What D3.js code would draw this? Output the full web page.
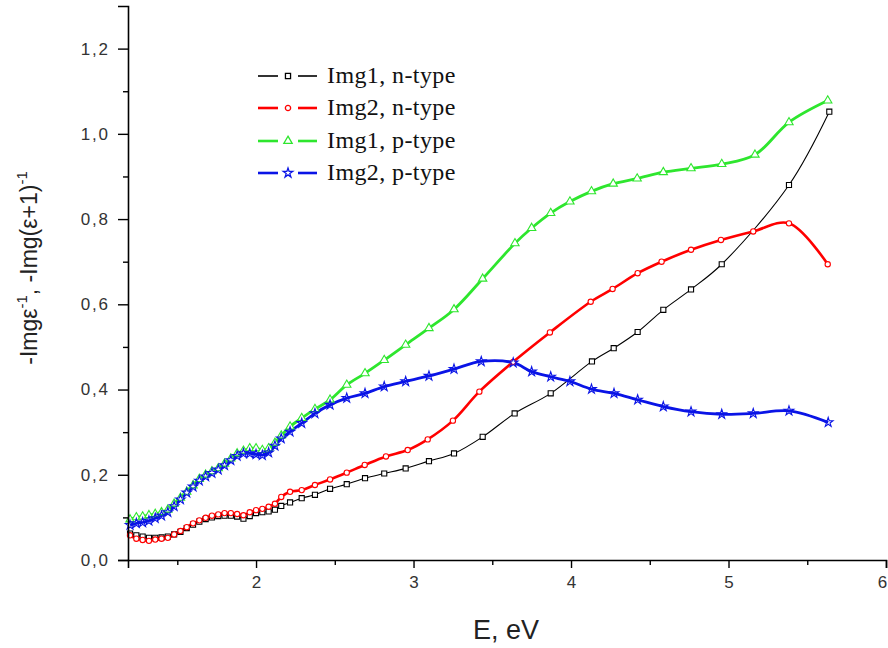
<!DOCTYPE html>
<html>
<head>
<meta charset="utf-8">
<script src="https://cdn.jsdelivr.net/npm/d3@7"></script>
<style>
  html, body { margin: 0; padding: 0; background: #fff; }
  svg { display: block; }
</style>
</head>
<body>
<svg id="chart" width="888" height="648"></svg>
<script>
// ---------------- DATA ----------------
const seriesNames = ["Img1, n-type", "Img2, n-type", "Img1, p-type", "Img2, p-type"];

const img1N = [
  [1.20,.062],[1.24,.058],[1.28,.055],[1.32,.052],[1.36,.052],[1.40,.053],[1.44,.055],[1.48,.060],
  [1.52,.066],[1.56,.075],[1.60,.083],[1.64,.090],[1.68,.096],[1.72,.100],[1.76,.103],[1.80,.104],
  [1.84,.104],[1.88,.102],[1.92,.097],[1.96,.103],[2.00,.110],[2.04,.112],[2.08,.114],[2.12,.118],
  [2.16,.127],[2.216,.135],[2.29,.145],[2.374,.153],[2.47,.167],[2.576,.178],[2.692,.192],[2.814,.203],
  [2.95,.215],[3.098,.232],[3.257,.250],[3.439,.289],[3.642,.344],[3.871,.391],[4.133,.466],[4.271,.497],
  [4.423,.535],[4.586,.587],[4.762,.635],[4.957,.694],[5.384,.880],[5.64,1.052]
];
const img2N = [
  [1.20,.058],[1.24,.050],[1.28,.047],[1.32,.045],[1.36,.048],[1.40,.050],[1.44,.052],[1.48,.060],
  [1.52,.068],[1.56,.077],[1.60,.086],[1.64,.093],[1.68,.099],[1.72,.104],[1.76,.107],[1.80,.110],
  [1.84,.110],[1.88,.108],[1.92,.105],[1.96,.112],[2.00,.117],[2.04,.120],[2.08,.125],[2.12,.132],
  [2.16,.148],[2.216,.160],[2.29,.164],[2.374,.176],[2.47,.189],[2.576,.205],[2.69,.223],[2.825,.243],
  [2.963,.258],[3.09,.283],[3.25,.327],[3.418,.395],[3.633,.465],[3.866,.534],[4.125,.606],[4.264,.636],
  [4.423,.673],[4.575,.700],[4.762,.728],[4.952,.751],[5.157,.771],[5.384,.790],[5.63,.694]
];
const img1P = [
  [1.20,.095],[1.24,.100],[1.28,.102],[1.32,.105],[1.36,.108],[1.40,.112],[1.44,.118],[1.48,.132],
  [1.52,.146],[1.56,.160],[1.60,.175],[1.64,.190],[1.68,.200],[1.72,.208],[1.76,.215],[1.80,.226],
  [1.84,.238],[1.88,.250],[1.92,.256],[1.96,.262],[2.00,.262],[2.04,.258],[2.08,.262],[2.12,.275],
  [2.16,.292],[2.216,.313],[2.29,.333],[2.374,.354],[2.47,.376],[2.576,.411],[2.692,.438],[2.814,.469],
  [2.95,.505],[3.098,.544],[3.257,.588],[3.439,.660],[3.644,.743],[3.75,.779],[3.871,.814],[3.993,.841],
  [4.13,.865],[4.268,.883],[4.42,.895],[4.586,.910],[4.762,.919],[4.957,.929],[5.168,.951],[5.384,1.027],
  [5.63,1.078]
];
const img2P = [
  [1.20,.082],[1.24,.086],[1.28,.088],[1.32,.092],[1.36,.098],[1.40,.104],[1.44,.112],[1.48,.126],
  [1.52,.142],[1.56,.158],[1.60,.172],[1.64,.186],[1.68,.196],[1.72,.204],[1.76,.212],[1.80,.222],
  [1.84,.234],[1.88,.244],[1.92,.250],[1.96,.250],[2.00,.248],[2.04,.246],[2.08,.252],[2.12,.268],
  [2.16,.285],[2.216,.301],[2.29,.321],[2.374,.344],[2.47,.364],[2.576,.380],[2.692,.391],[2.814,.407],
  [2.95,.419],[3.098,.432],[3.257,.448],[3.43,.466],[3.633,.463],[3.75,.442],[3.871,.430],[3.993,.419],
  [4.13,.401],[4.273,.391],[4.423,.376],[4.586,.360],[4.762,.348],[4.957,.342],[5.157,.344],[5.384,.350],
  [5.633,.323]
];

const xTicks = [2, 3, 4, 5, 6];
const xMinorTicks = [1.5, 2.5, 3.5, 4.5, 5.5];
const yTicks = [0, 0.2, 0.4, 0.6, 0.8, 1.0, 1.2];
const yMinorTicks = [0.1, 0.3, 0.5, 0.7, 0.9, 1.1];

// ---------------- CHART ----------------
const svg = d3.select("#chart");
const x = d3.scaleLinear().domain([1.187, 6]).range([128, 886]);
const y = d3.scaleLinear().domain([0, 1.3]).range([560, 6]);

const fmt = d => d3.format(".1f")(d).replace(".", ",");
const sans = "'Liberation Sans', Arial, sans-serif";

const series = [
  { name: seriesNames[0], data: img1N, color: "#000000", width: 1.1, sym: "square" },
  { name: seriesNames[1], data: img2N, color: "#ff0000", width: 2.6, sym: "circle" },
  { name: seriesNames[2], data: img1P, color: "#2ee62e", width: 2.8, sym: "triangle" },
  { name: seriesNames[3], data: img2P, color: "#0a14e6", width: 2.8, sym: "star" }
];

const line = d3.line().x(d => x(d[0])).y(d => y(d[1])).curve(d3.curveCatmullRom.alpha(0.5));

const symGen = {
  square: d3.symbol().type(d3.symbolSquare).size(26),
  circle: d3.symbol().type(d3.symbolCircle).size(22),
  triangle: d3.symbol().type(d3.symbolTriangle).size(30),
  star: d3.symbol().type(d3.symbolStar).size(28)
};

const plot = svg.append("g");
series.forEach(s => {
  plot.append("path").datum(s.data)
    .attr("d", line)
    .attr("fill", "none")
    .attr("stroke", s.color)
    .attr("stroke-width", s.width)
    .attr("stroke-linejoin", "round");
});
series.forEach(s => {
  plot.append("g").selectAll("path").data(s.data).join("path")
    .attr("transform", d => `translate(${x(d[0])},${y(d[1])})`)
    .attr("d", symGen[s.sym])
    .attr("fill", "white")
    .attr("fill-opacity", s.sym === "star" ? 0 : 1)
    .attr("stroke", s.color)
    .attr("stroke-width", 1.1);
});

// Axes
const xAxisG = svg.append("g").attr("transform", "translate(0,560)")
  .call(d3.axisBottom(x).tickValues(xTicks).tickFormat(d3.format("d")).tickSize(8).tickPadding(8));
const xMinor = svg.append("g").attr("transform", "translate(0,560)")
  .call(d3.axisBottom(x).tickValues(xMinorTicks).tickFormat("").tickSize(5));
const yAxisG = svg.append("g").attr("transform", "translate(128,0)")
  .call(d3.axisLeft(y).tickValues(yTicks).tickFormat(fmt).tickSize(10).tickPadding(10));
const yMinor = svg.append("g").attr("transform", "translate(128,0)")
  .call(d3.axisLeft(y).tickValues(yMinorTicks).tickFormat("").tickSize(5));

[xAxisG, xMinor, yAxisG, yMinor].forEach(g => {
  g.select(".domain").attr("stroke", "#000").attr("stroke-width", 1.6);
  g.selectAll(".tick line").attr("stroke", "#000").attr("stroke-width", 1.4);
  g.selectAll(".tick text").attr("font-family", sans)
    .attr("font-size", 17).attr("fill", "#333");
});
yAxisG.selectAll(".tick text").attr("letter-spacing", 1.8).attr("dx", 1.8);
xAxisG.selectAll(".tick text").filter(d => d === 6).attr("dx", -4);
xMinor.select(".domain").remove();
yMinor.select(".domain").remove();

// Axis titles
svg.append("text")
  .attr("x", 506).attr("y", 639)
  .attr("text-anchor", "middle")
  .attr("font-family", sans)
  .attr("font-size", 27).attr("fill", "#222")
  .text("E, eV");

const yt = svg.append("text")
  .attr("transform", "translate(37,268) rotate(-90)")
  .attr("text-anchor", "middle")
  .attr("font-family", sans)
  .attr("font-size", 23).attr("fill", "#222");
yt.append("tspan").text("-Imgε");
yt.append("tspan").attr("font-size", 15).attr("dy", -10).text("-1");
yt.append("tspan").attr("dy", 10).text(", -Img(ε+1)");
yt.append("tspan").attr("font-size", 15).attr("dy", -10).text("-1");

// Legend
const legend = svg.append("g");
const legRows = [76, 108, 141, 173];
series.forEach((s, i) => {
  const ly = legRows[i];
  const g = legend.append("g");
  const lw = s.width === 1.1 ? 1.6 : 2.6;
  g.append("line").attr("x1", 258).attr("x2", 278).attr("y1", ly).attr("y2", ly)
    .attr("stroke", s.color).attr("stroke-width", lw);
  g.append("line").attr("x1", 298).attr("x2", 317).attr("y1", ly).attr("y2", ly)
    .attr("stroke", s.color).attr("stroke-width", lw);
  g.append("path").attr("transform", `translate(288,${ly})`).attr("d", symGen[s.sym])
    .attr("fill", "white").attr("stroke", s.color).attr("stroke-width", 1.3);
  g.append("text").attr("x", 327).attr("y", ly + 7)
    .attr("font-family", "'Liberation Serif', 'Times New Roman', serif")
    .attr("font-size", 24).attr("letter-spacing", 0.4).attr("fill", "#111")
    .text(s.name);
});
</script>
</body>
</html>
